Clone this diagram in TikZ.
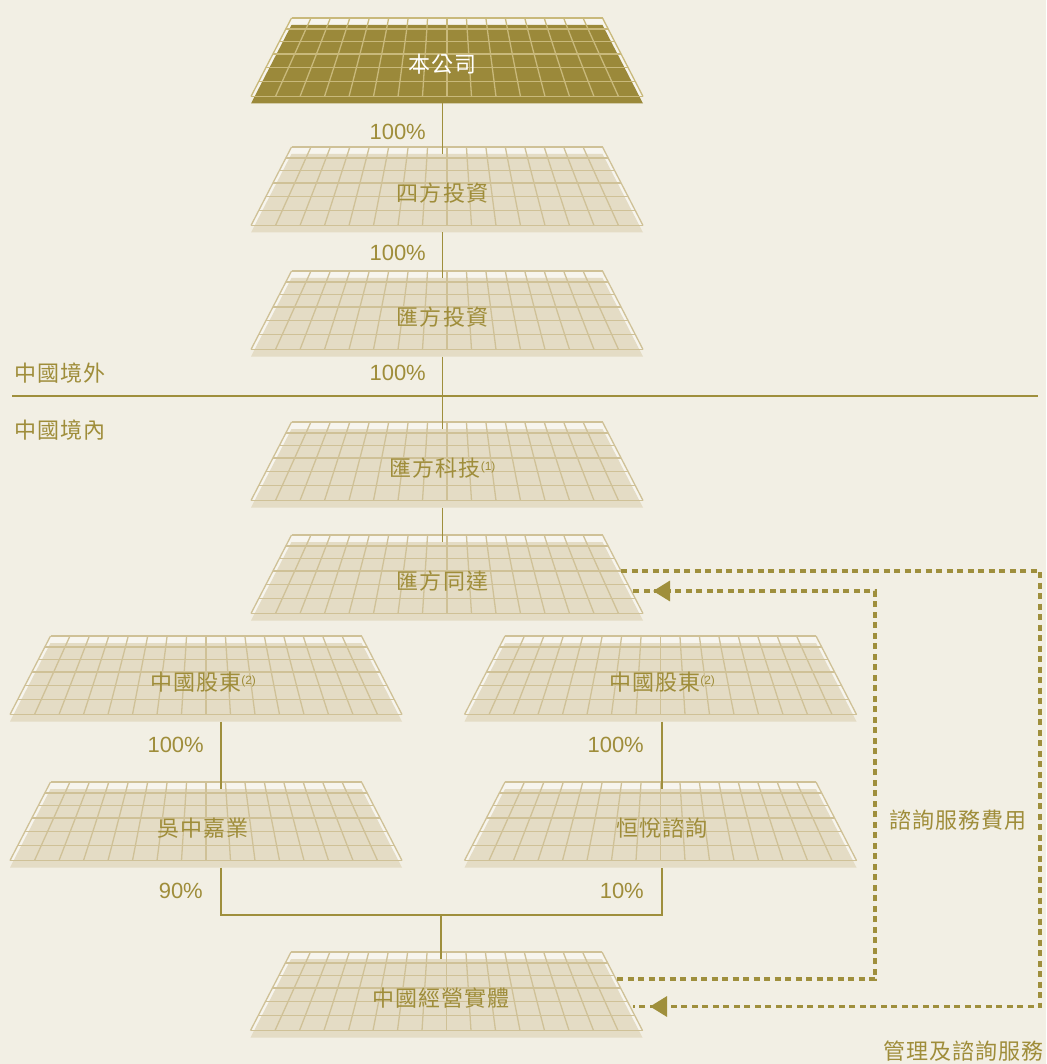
\documentclass[tikz,border=0pt]{standalone}
\usepackage{fontspec}
\setmainfont{Liberation Sans}
\newfontfamily\cjk{Noto Sans CJK TC}[LetterSpace=5]
\usepackage{tikz}
\usetikzlibrary{positioning}
\usetikzlibrary{arrows.meta}
\usetikzlibrary{decorations.markings}
\usepackage{xcolor}

\definecolor{bgcol}{HTML}{F2EFE4}
\definecolor{slabfill}{HTML}{E4DCC5}
\definecolor{slabgrid}{HTML}{CFC197}
\definecolor{darkfill}{HTML}{9B893A}
\definecolor{darkgrid}{HTML}{C9B97B}
\definecolor{goldtext}{HTML}{9F8D3A}
\definecolor{goldline}{HTML}{9F8F3C}

\tikzset{
  light slab/.style={fill=slabfill},
  light grid/.style={draw=slabgrid, line width=1.3pt},
  light text/.style={text=goldtext, inner sep=0pt, font=\cjk\fontsize{22}{26}\selectfont},
  dark slab/.style={fill=darkfill},
  dark grid/.style={draw=darkgrid, line width=1.3pt},
  dark text/.style={text=white, inner sep=0pt, font=\cjk\fontsize{22}{26}\selectfont},
  pct/.style={text=goldtext, inner sep=0pt, anchor=east, font=\fontsize{22}{26}\selectfont},
  conn/.style={draw=goldline, line width=1.6pt},
  divider/.style={draw=goldline, line width=2.8pt},
  fee/.style={draw=goldline, line width=3.2pt, dash pattern=on 6pt off 4.5pt,
    postaction={decorate}},
  tip at/.style={decoration={markings,
    mark=at position -#1 with {\arrow{Triangle[length=17pt,width=20pt]}}}}
}

% small raised note mark
\newcommand{\fnmark}[1]{\raisebox{6pt}{\rmfamily\fontsize{12}{12}\selectfont(#1)}}

% perspective grid slab: [style]{name}{box x}{text x}{top y}{text}
\newcommand{\slab}[6][light]{%
  \begin{scope}[shift={(#3,#5)}]
    \fill[white, opacity=.4] (-155.5,0) -- (155.5,0) -- (196,78.5) -- (-196,78.5) -- cycle;
    \fill[#1 slab] (-155.5,7) -- (155.5,7) -- (196,85.5) -- (-196,85.5) -- cycle;
    %rows
    \foreach \r in {0,.14,.30,.46,.63,.81,1}
      \draw[#1 grid] ({-155.5-40.5*\r},78.5*\r) -- ({155.5+40.5*\r},78.5*\r);
    %columns
    \foreach \i in {0,...,16}
      \draw[#1 grid] ({-155.5+311*\i/16},0) -- ({-196+392*\i/16},78.5);
  \end{scope}
  \node[#1 text] (#2) at (#4,#5+46) {#6};
  \coordinate (#2-top) at (#4,#5+7);
  \coordinate (#2-bot) at (#4,#5+85.5);
}

\begin{document}
\begin{tikzpicture}[x=1pt, y=-1pt]

\fill[bgcol] (0,0) rectangle (1046,1064);
\useasboundingbox (0,0) rectangle (1046,1064);

%offshore chain
\slab[dark]{bgs}{447}{442.5}{18}{本公司}
\slab{sfi}{447}{442.5}{147}{四方投資}
\slab{hfi}{447}{442.5}{271}{匯方投資}

%onshore chain
\slab{hft}{447}{442.5}{422}{匯方科技\fnmark{1}}
\slab{htd}{447}{442.5}{535}{匯方同達}

%registered shareholders
\slab{gd1}{206}{203}{636}{中國股東\fnmark{2}}
\slab{gd2}{660.5}{662}{636}{中國股東\fnmark{2}}
\slab{wz}{206}{203}{782}{吳中嘉業}
\slab{hy}{660.5}{662}{782}{恒悅諮詢}

%operating entity
\slab{ent}{446.5}{441}{952}{中國經營實體}

%shareholding lines
\draw[conn] (bgs-bot) -- (sfi-top);
\draw[conn] (sfi-bot) -- (hfi-top);
\draw[conn] (hfi-bot) -- (hft-top);
\draw[conn] (hft-bot) -- (htd-top);
\draw[conn] ([xshift=18pt]gd1-bot) -- ([xshift=18pt]wz-top);
\draw[conn] (gd2-bot) -- (hy-top);
\coordinate (jn) at (441,915);
\draw[conn] ([xshift=18pt]wz-bot) |- (jn) -| (hy-bot);
\draw[conn] (jn) -- (ent-top);

\node[pct] (p1) at (426,132) {100\%};
\node[pct] (p2) at (426,253) {100\%};
\node[pct] (p3) at (426,373) {100\%};
\node[pct] (p4) at (204,745) {100\%};
\node[pct] (p5) at (644,745) {100\%};
\node[pct] (p6) at (203,891) {90\%};
\node[pct] (p7) at (644,891) {10\%};

%border line
\draw[divider] (12,396) -- (1038,396);
\node[light text, anchor=west] (outside) at (14,373) {中國境外};
\node[light text, anchor=west] (inside) at (14,430) {中國境內};

%contractual flows
\coordinate (htd-out) at (621,571);
\coordinate (htd-in) at (632,591);
\coordinate (ent-out) at (617,979);
\coordinate (ent-in) at (633,1006.5);
\draw[fee, tip at=17pt] (htd-out) -- ++(419,0) |- (ent-in);
\draw[fee, tip at=21pt] (ent-out) -- ++(258,0) |- (htd-in);
\node[light text] (feein) at (958,820) {諮詢服務費用};
\node[light text, anchor=east] (feeout) at (1044,1051) {管理及諮詢服務};

\end{tikzpicture}
\end{document}
